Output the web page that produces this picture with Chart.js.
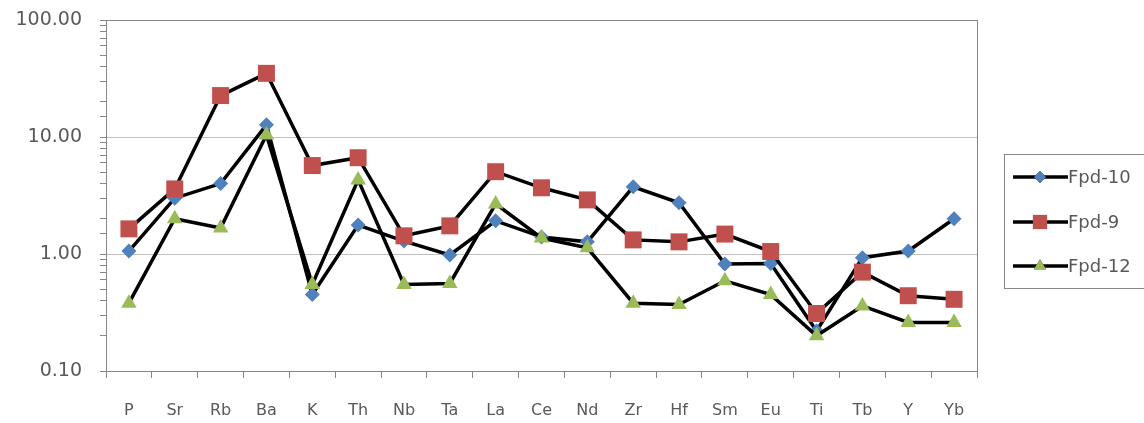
<!DOCTYPE html>
<html>
<head>
<meta charset="utf-8">
<script src="https://cdn.jsdelivr.net/npm/chart.js@4/dist/chart.umd.min.js"></script>
<style>
  html, body { margin: 0; padding: 0; background: #fff; }
  #wrap { width: 1144px; height: 423px; position: relative; }
</style>
</head>
<body>
<div id="wrap"><canvas id="chart"></canvas></div>
<script>
// Elements along the x axis
const elements = ['P', 'Sr', 'Rb', 'Ba', 'K', 'Th', 'Nb', 'Ta', 'La', 'Ce', 'Nd', 'Zr', 'Hf', 'Sm', 'Eu', 'Ti', 'Tb', 'Y', 'Yb'];

// Normalized values
const fpd10 = [1.06, 3.0, 4.0, 12.7, 0.45, 1.77, 1.29, 0.98, 1.92, 1.4, 1.27, 3.75, 2.74, 0.82, 0.83, 0.22, 0.93, 1.06, 2.0];
const fpd9 = [1.64, 3.6, 22.6, 35, 5.7, 6.65, 1.43, 1.74, 5.05, 3.68, 2.9, 1.32, 1.27, 1.48, 1.05, 0.31, 0.70, 0.44, 0.41];
const fpd12 = [0.38, 2.0, 1.67, 10.4, 0.55, 4.3, 0.55, 0.56, 2.68, 1.37, 1.13, 0.38, 0.37, 0.59, 0.45, 0.20, 0.36, 0.26, 0.26];

const yMajorTicks = [0.1, 1, 10, 100];

const FONT = '"DejaVu Sans", Verdana, sans-serif';
const TEXT_COLOR = '#595959';
const AXIS_COLOR = '#868686';

function isMajor(v) {
  return yMajorTicks.some(t => Math.abs(v - t) / t < 1e-6);
}

// Plot area border (Excel style box)
const areaBorder = {
  id: 'areaBorder',
  afterDatasetsDraw(chart) {
    const { ctx, chartArea: a } = chart;
    ctx.save();
    ctx.strokeStyle = AXIS_COLOR;
    ctx.lineWidth = 1;
    ctx.strokeRect(a.left + 0.5, a.top + 0.5, a.right - a.left, a.bottom - a.top);
    ctx.restore();
  }
};

// Legend on the right with line + marker samples
const sideLegend = {
  id: 'sideLegend',
  afterDraw(chart) {
    const { ctx } = chart;
    const boxX = 1004, boxY = 154, boxW = 160, boxH = 134;
    ctx.save();
    ctx.strokeStyle = AXIS_COLOR;
    ctx.lineWidth = 1;
    ctx.strokeRect(boxX + 0.5, boxY + 0.5, boxW, boxH);
    const rows = [177, 222, 266];
    chart.data.datasets.forEach((ds, i) => {
      const y = rows[i];
      ctx.strokeStyle = '#000';
      ctx.lineWidth = 3.5;
      ctx.beginPath();
      ctx.moveTo(1013, y);
      ctx.lineTo(1068, y);
      ctx.stroke();
      Chart.helpers.drawPoint(ctx, {
        pointStyle: ds.pointStyle,
        radius: ds.legendRadius,
        borderWidth: 0
      }, 1040, y);
      ctx.fillStyle = ds.pointBackgroundColor;
      ctx.fill();
      ctx.fillStyle = TEXT_COLOR;
      ctx.font = '18px ' + FONT;
      ctx.textBaseline = 'middle';
      ctx.textAlign = 'left';
      ctx.fillText(ds.label, 1068, y + 1);
    });
    ctx.restore();
  }
};

function makeSeries(label, data, color, style, radius, legendRadius, order) {
  return {
    label: label,
    data: data,
    borderColor: '#000',
    borderWidth: 3.5,
    pointStyle: style,
    pointRadius: radius,
    pointHoverRadius: radius,
    pointBackgroundColor: color,
    pointBorderColor: color,
    pointBorderWidth: 0,
    legendRadius: legendRadius,
    tension: 0,
    order: order
  };
}

new Chart(document.getElementById('chart'), {
  type: 'line',
  data: {
    labels: elements,
    datasets: [
      makeSeries('Fpd-10', fpd10, '#4f81bd', 'rectRot', 7.5, 6, 3),
      makeSeries('Fpd-9', fpd9, '#c0504d', 'rect', 12, 10, 2),
      makeSeries('Fpd-12', fpd12, '#9bbb59', 'triangle', 9, 7, 1)
    ]
  },
  options: {
    responsive: true,
    maintainAspectRatio: false,
    animation: false,
    layout: {
      padding: { top: 20, right: 167, left: 0, bottom: 0 }
    },
    scales: {
      x: {
        offset: true,
        afterFit: function(scale) {
          scale.height = 52;
          scale.paddingLeft = 0;
          scale.paddingRight = 0;
        },
        grid: {
          display: true,
          drawOnChartArea: false,
          offset: true,
          tickLength: 7,
          color: AXIS_COLOR
        },
        border: { color: AXIS_COLOR },
        ticks: {
          color: TEXT_COLOR,
          padding: 23,
          maxRotation: 0,
          autoSkip: false,
          font: { family: FONT, size: 16 }
        }
      },
      y: {
        type: 'logarithmic',
        min: 0.1,
        max: 100,
        afterFit: function(scale) {
          scale.width = 106;
          scale.paddingTop = 0;
          scale.paddingBottom = 0;
        },
        grid: {
          drawTicks: true,
          tickLength: 6,
          tickColor: AXIS_COLOR,
          color: function(context) {
            const v = context.tick ? context.tick.value : 0;
            return isMajor(v) && v > 0.1 && v < 100 ? '#c0c0c0' : 'rgba(0,0,0,0)';
          }
        },
        border: { color: AXIS_COLOR },
        ticks: {
          color: TEXT_COLOR,
          padding: 18,
          autoSkip: false,
          font: { family: FONT, size: 19 },
          callback: function(value) {
            return isMajor(value) ? value.toFixed(2) : '';
          }
        }
      }
    },
    plugins: {
      legend: { display: false },
      tooltip: { enabled: false }
    }
  },
  plugins: [areaBorder, sideLegend]
});
</script>
</body>
</html>
